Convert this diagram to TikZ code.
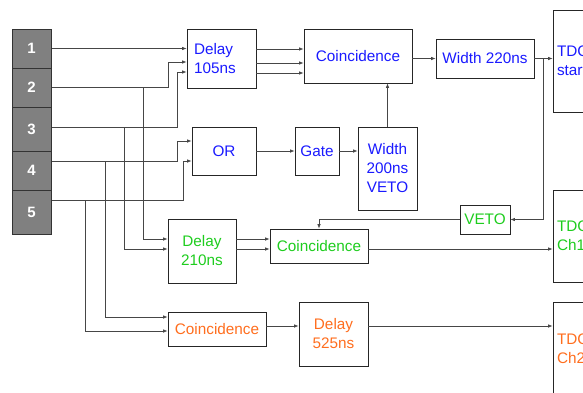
\documentclass[tikz,border=0pt]{standalone}
\usepackage{fontspec}
\setmainfont{Liberation Sans}
\usetikzlibrary{arrows.meta}
\definecolor{sigblue}{RGB}{26,26,255}
\definecolor{siggreen}{RGB}{30,205,30}
\definecolor{sigorange}{RGB}{255,110,30}
\definecolor{wiregray}{RGB}{70,70,70}
\tikzset{
box/.style={draw=black!85, line width=0.8pt, fill=white, inner sep=0pt, align=center,
  font=\fontsize{15.3}{19}\selectfont},
tdc/.style={box, align=left, text width=52pt, inner xsep=4pt},
cell/.style={draw=black!80, fill=black!50, line width=1pt, minimum width=39pt, inner sep=0pt,
  text=white, font=\fontsize{15}{18}\selectfont\bfseries},
wire/.style={draw=wiregray, line width=0.7pt},
sig/.style={wire, -{Latex[length=4.5pt,width=3.5pt]}}
}
\begin{document}
\begin{tikzpicture}[x=1pt,y=-1pt]
\useasboundingbox (0,0) rectangle (583,392);
\clip (0,0) rectangle (583,392);

\foreach \n/\yc/\h in {1/48.5/39,2/87.5/39,3/129/44,4/170.5/39,5/212/44}
  \node[cell, minimum height=\h pt] (c\n) at (31.5,\yc) {\n};

\node[box, text=sigblue, align=left, text width=55pt, inner xsep=7pt, minimum height=59pt] (d105) at (221.5,58.5) {Delay\\105ns};
\node[box, text=sigblue, minimum width=108pt, minimum height=54pt] (coinc) at (358,56) {Coincidence};
\node[box, text=sigblue, minimum width=98pt, minimum height=39pt] (w220) at (485,58.5) {Width 220ns};
\node[tdc, text=sigblue, minimum height=102pt] (tdcs) at (583,61) {TDC\\start};
\node[box, text=sigblue, minimum width=64pt, minimum height=48pt] (or) at (224,151) {OR};
\node[box, text=sigblue, minimum width=44pt, minimum height=48pt] (gate) at (317,151) {Gate};
\node[box, text=sigblue, minimum width=59pt, minimum height=83pt] (w200) at (387.5,168.5) {Width\\200ns\\VETO};
\node[box, text=siggreen, minimum width=50pt, minimum height=29pt] (veto) at (485,219.5) {VETO};
\node[box, text=siggreen, minimum width=68pt, minimum height=64pt] (d210) at (202,251) {Delay\\210ns};
\node[box, text=siggreen, minimum width=98pt, minimum height=34pt] (cg) at (319,246) {Coincidence};
\node[tdc, text=siggreen, minimum height=92pt] (tdc1) at (583,236) {TDC\\Ch1};
\node[box, text=sigorange, minimum width=98pt, minimum height=34pt] (co) at (217,329) {Coincidence};
\node[box, text=sigorange, minimum width=69pt, minimum height=64pt] (d525) at (333.5,334) {Delay\\525ns};
\node[tdc, text=sigorange, minimum height=94pt] (tdc2) at (583,349) {TDC\\Ch2};

\coordinate (o1) at (c1.east);
\coordinate (o2) at (c2.east);
\coordinate (o3) at (c3.east |- 0,127);
\coordinate (o4) at (c4.east |- 0,161);
\coordinate (o5) at (c5.east |- 0,200);

\draw[sig] (o1) -- (o1 -| d105.west);
\draw[sig] (o2) -| (168,62) -- (d105.west |- 0,62);
\draw[sig] (o3) -| (177,72) -- (d105.west |- 0,72);
\draw[sig] (o4) -| (177,141) -- (or.west |- 0,141);
\draw[sig] (o5) -| (183,161) -- (or.west |- 0,161);
\draw[sig] (o2 -| 143,0) |- (d210.west |- 0,239);
\draw[sig] (o3 -| 124,0) |- (d210.west |- 0,249);
\draw[sig] (o4 -| 105,0) |- (co.west |- 0,317);
\draw[sig] (o5 -| 85,0) |- (co.west |- 0,331);

\foreach \y in {49,63,73}
  \draw[sig] (d105.east |- 0,\y) -- (coinc.west |- 0,\y);
\draw[sig] (coinc.east |- w220) -- (w220.west);
\draw[sig] (w220.east) -- (w220 -| tdcs.west);
\draw[sig] (w220.east -| 543,0) |- (veto.east);
\draw[sig] (veto.west) -| (cg.north);
\draw[sig] (or.east) -- (gate.west);
\draw[sig] (gate.east) -- (gate.east -| w200.west);
\draw[sig] (w200.north) -- (w200.north |- coinc.south);
\foreach \y in {239,249}
  \draw[sig] (d210.east |- 0,\y) -- (cg.west |- 0,\y);
\draw[sig] (cg.east |- 0,249) -- (tdc1.west |- 0,249);
\draw[sig] (co.east |- 0,326) -- (d525.west |- 0,326);
\draw[sig] (d525.east |- 0,326) -- (tdc2.west |- 0,326);
\end{tikzpicture}
\end{document}
